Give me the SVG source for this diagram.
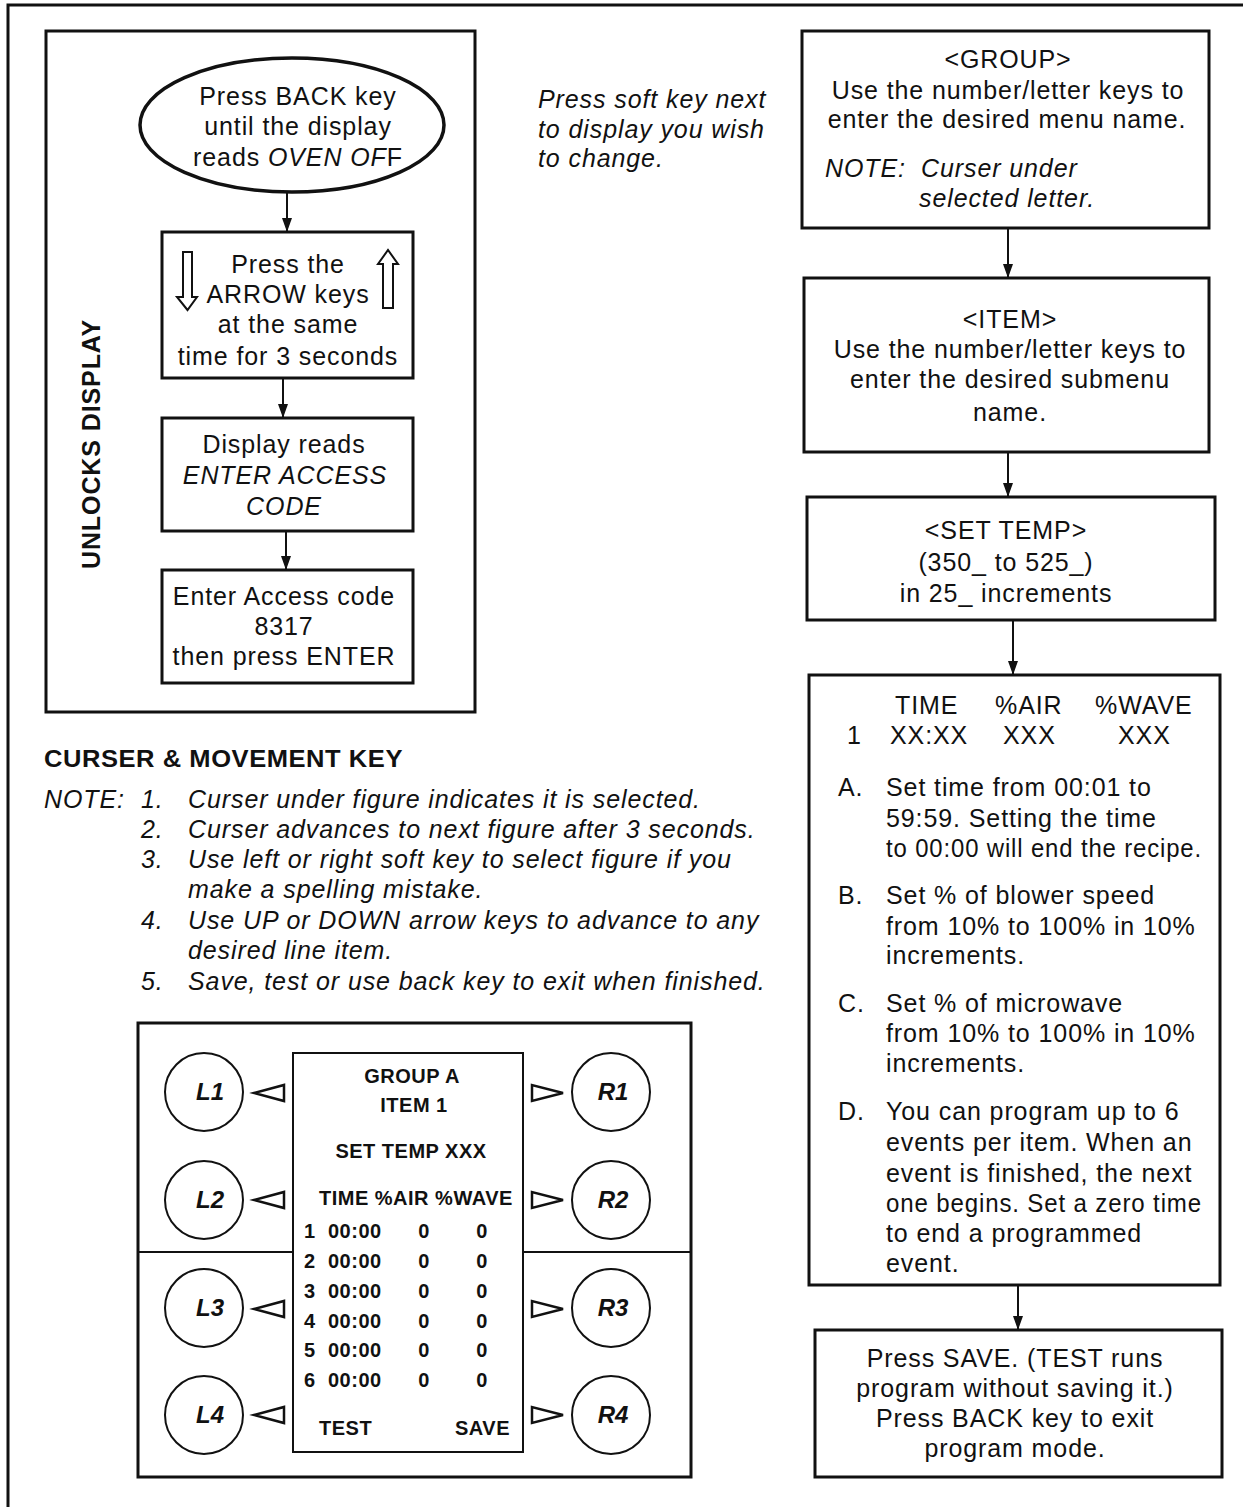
<svg xmlns="http://www.w3.org/2000/svg" width="1243" height="1507" viewBox="0 0 1243 1507">
<style>
  text { font-family: "Liberation Sans", Arial, Helvetica, sans-serif; fill: #111; }
  .t { font-size: 25px; letter-spacing: 0.9px; }
  .c { text-anchor: middle; }
  .i { font-style: italic; }
  .b { font-weight: bold; }
  .box { fill: #fff; stroke: #111; stroke-width: 3; }
  .thin { fill: none; stroke: #111; stroke-width: 2; }
  .conn { stroke: #111; stroke-width: 2; fill: none; }
  .scr { font-size: 20px; font-weight: bold; letter-spacing: 0.5px; }
  .key { font-size: 24px; font-weight: bold; font-style: italic; text-anchor: middle; }
  .tri { fill: #fff; stroke: #111; stroke-width: 2.5; stroke-linejoin: miter; }
</style>
<defs>
  <marker id="ah" viewBox="0 0 10 14" refX="5" refY="14" markerWidth="10" markerHeight="14" markerUnits="userSpaceOnUse" orient="0">
    <path d="M0,0 L10,0 L5,14 Z" fill="#111"/>
  </marker>
</defs>
<rect width="1243" height="1507" fill="#fff"/>

<!-- page border -->
<polyline points="8,1507 8,5 1243,5" fill="none" stroke="#111" stroke-width="3"/>

<!-- left panel -->
<g id="unlock-panel">
  <rect x="46" y="31" width="429" height="681" class="box"/>
  <text class="t c b" transform="translate(100,444) rotate(-90)">UNLOCKS DISPLAY</text>
</g>

<g id="n-back">
  <ellipse cx="292" cy="125" rx="152" ry="67" fill="#fff" stroke="#111" stroke-width="3.5"/>
  <text class="t c" x="298" y="105">Press BACK key</text>
  <text class="t c" x="298" y="135">until the display</text>
  <text class="t c" x="298" y="166">reads <tspan class="i">OVEN OF</tspan>F</text>
</g>

<g id="n-arrows">
  <rect x="162" y="232" width="251" height="146" class="box"/>
  <path d="M183,252 H192 V297 H197 L187.5,310 L177,297 H183 Z" class="thin"/>
  <path d="M383,308 H393 V264 H398 L388,250 L378,264 H383 Z" class="thin"/>
  <text class="t c" x="288" y="273">Press the</text>
  <text class="t c" x="288" y="303">ARROW keys</text>
  <text class="t c" x="288" y="333">at the same</text>
  <text class="t c" x="288" y="365">time for 3 seconds</text>
</g>

<g id="n-display-reads">
  <rect x="162" y="418" width="251" height="113" class="box"/>
  <text class="t c" x="284" y="453">Display reads</text>
  <text class="t c i" x="285" y="484">ENTER ACCESS</text>
  <text class="t c i" x="284" y="515">CODE</text>
</g>

<g id="n-enter-code">
  <rect x="162" y="570" width="251" height="113" class="box"/>
  <text class="t c" x="284" y="605">Enter Access code</text>
  <text class="t c" x="284" y="635">8317</text>
  <text class="t c" x="284" y="665">then press ENTER</text>
</g>

<!-- soft key note -->
<g id="softkey-note">
  <text class="t i" x="538" y="108">Press soft key next</text>
  <text class="t i" x="538" y="138">to display you wish</text>
  <text class="t i" x="538" y="167">to change.</text>
</g>

<!-- right column -->
<g id="n-group">
  <rect x="802" y="31" width="407" height="197" class="box"/>
  <text class="t c" x="1008" y="68">&lt;GROUP&gt;</text>
  <text class="t c" x="1008" y="99">Use the number/letter keys to</text>
  <text class="t c" x="1007" y="128">enter the desired menu name.</text>
  <text class="t i" x="825" y="177">NOTE:</text>
  <text class="t i" x="921" y="177">Curser under</text>
  <text class="t i" x="919" y="207">selected letter.</text>
</g>

<g id="n-item">
  <rect x="804" y="278" width="405" height="174" class="box"/>
  <text class="t c" x="1010" y="328">&lt;ITEM&gt;</text>
  <text class="t c" x="1010" y="358">Use the number/letter keys to</text>
  <text class="t c" x="1010" y="388">enter the desired submenu</text>
  <text class="t c" x="1010" y="421">name.</text>
</g>

<g id="n-settemp">
  <rect x="807" y="497" width="408" height="123" class="box"/>
  <text class="t c" x="1006" y="539">&lt;SET TEMP&gt;</text>
  <text class="t c" x="1006" y="571">(350_ to 525_)</text>
  <text class="t c" x="1006" y="602">in 25_ increments</text>
</g>

<g id="n-events">
  <rect x="809" y="675" width="411" height="610" class="box"/>
  <text class="t" x="895" y="714">TIME</text>
  <text class="t" x="995" y="714">%AIR</text>
  <text class="t" x="1095" y="714">%WAVE</text>
  <text class="t" x="847" y="744">1</text>
  <text class="t" x="890" y="744">XX:XX</text>
  <text class="t" x="1003" y="744">XXX</text>
  <text class="t" x="1118" y="744">XXX</text>

  <text class="t" x="838" y="796">A.</text>
  <text class="t" x="886" y="796">Set time from 00:01 to</text>
  <text class="t" x="886" y="827">59:59. Setting the time</text>
  <text class="t" x="886" y="857" textLength="316" lengthAdjust="spacingAndGlyphs">to 00:00 will end the recipe.</text>

  <text class="t" x="838" y="904">B.</text>
  <text class="t" x="886" y="904">Set % of blower speed</text>
  <text class="t" x="886" y="935">from 10% to 100% in 10%</text>
  <text class="t" x="886" y="964">increments.</text>

  <text class="t" x="838" y="1012">C.</text>
  <text class="t" x="886" y="1012">Set % of microwave</text>
  <text class="t" x="886" y="1042">from 10% to 100% in 10%</text>
  <text class="t" x="886" y="1072">increments.</text>

  <text class="t" x="838" y="1120">D.</text>
  <text class="t" x="886" y="1120">You can program up to 6</text>
  <text class="t" x="886" y="1151">events per item. When an</text>
  <text class="t" x="886" y="1182">event is finished, the next</text>
  <text class="t" x="886" y="1212" textLength="316" lengthAdjust="spacingAndGlyphs">one begins. Set a zero time</text>
  <text class="t" x="886" y="1242">to end a programmed</text>
  <text class="t" x="886" y="1272">event.</text>
</g>

<g id="n-save">
  <rect x="815" y="1330" width="407" height="147" class="box"/>
  <text class="t c" x="1015" y="1367">Press SAVE. (TEST runs</text>
  <text class="t c" x="1015" y="1397">program without saving it.)</text>
  <text class="t c" x="1015" y="1427">Press BACK key to exit</text>
  <text class="t c" x="1015" y="1457">program mode.</text>
</g>

<!-- curser notes -->
<g id="curser-notes">
  <text class="b" x="44" y="767" font-size="23" letter-spacing="0.5" textLength="359" lengthAdjust="spacingAndGlyphs">CURSER &amp; MOVEMENT KEY</text>
  <text class="t i" x="44" y="808">NOTE:</text>
  <text class="t i" x="141" y="808">1.</text>
  <text class="t i" x="188" y="808">Curser under figure indicates it is selected.</text>
  <text class="t i" x="141" y="838">2.</text>
  <text class="t i" x="188" y="838">Curser advances to next figure after 3 seconds.</text>
  <text class="t i" x="141" y="868">3.</text>
  <text class="t i" x="188" y="868">Use left or right soft key to select figure if you</text>
  <text class="t i" x="188" y="898">make a spelling mistake.</text>
  <text class="t i" x="141" y="929">4.</text>
  <text class="t i" x="188" y="929">Use UP or DOWN arrow keys to advance to any</text>
  <text class="t i" x="188" y="959">desired line item.</text>
  <text class="t i" x="141" y="990">5.</text>
  <text class="t i" x="188" y="990">Save, test or use back key to exit when finished.</text>
</g>

<!-- display panel -->
<g id="display-panel">
  <rect x="138" y="1023" width="553" height="454" class="box"/>
  <line x1="138" y1="1252" x2="293" y2="1252" class="conn"/>
  <line x1="523" y1="1252" x2="691" y2="1252" class="conn"/>
  <rect x="293" y="1053" width="230" height="399" fill="#fff" stroke="#111" stroke-width="2"/>
  <text class="scr c" x="412" y="1083">GROUP A</text>
  <text class="scr c" x="414" y="1112">ITEM 1</text>
  <text class="scr c" x="411" y="1158">SET TEMP XXX</text>
  <text class="scr" x="319" y="1205">TIME %AIR %WAVE</text>
  <g class="scr">
    <text class="scr" x="304" y="1238">1</text><text class="scr" x="328" y="1238">00:00</text><text class="scr c" x="424" y="1238">0</text><text class="scr c" x="482" y="1238">0</text>
    <text class="scr" x="304" y="1268">2</text><text class="scr" x="328" y="1268">00:00</text><text class="scr c" x="424" y="1268">0</text><text class="scr c" x="482" y="1268">0</text>
    <text class="scr" x="304" y="1298">3</text><text class="scr" x="328" y="1298">00:00</text><text class="scr c" x="424" y="1298">0</text><text class="scr c" x="482" y="1298">0</text>
    <text class="scr" x="304" y="1328">4</text><text class="scr" x="328" y="1328">00:00</text><text class="scr c" x="424" y="1328">0</text><text class="scr c" x="482" y="1328">0</text>
    <text class="scr" x="304" y="1357">5</text><text class="scr" x="328" y="1357">00:00</text><text class="scr c" x="424" y="1357">0</text><text class="scr c" x="482" y="1357">0</text>
    <text class="scr" x="304" y="1387">6</text><text class="scr" x="328" y="1387">00:00</text><text class="scr c" x="424" y="1387">0</text><text class="scr c" x="482" y="1387">0</text>
  </g>
  <text class="scr" x="319" y="1435">TEST</text>
  <text class="scr" x="510" y="1435" text-anchor="end">SAVE</text>
</g>

<g id="key-L1"><circle cx="204" cy="1092" r="39" class="thin" fill="#fff"/><text class="key" x="210" y="1100">L1</text><path d="M254,1093 L284,1085 L284,1101 Z" class="tri"/></g>
<g id="key-L2"><circle cx="204" cy="1200" r="39" class="thin" fill="#fff"/><text class="key" x="210" y="1208">L2</text><path d="M254,1200 L284,1192 L284,1208 Z" class="tri"/></g>
<g id="key-L3"><circle cx="204" cy="1308" r="39" class="thin" fill="#fff"/><text class="key" x="210" y="1316">L3</text><path d="M254,1309 L284,1301 L284,1317 Z" class="tri"/></g>
<g id="key-L4"><circle cx="204" cy="1415" r="39" class="thin" fill="#fff"/><text class="key" x="210" y="1423">L4</text><path d="M254,1415 L284,1407 L284,1423 Z" class="tri"/></g>
<g id="key-R1"><circle cx="611" cy="1092" r="39" class="thin" fill="#fff"/><text class="key" x="613" y="1100">R1</text><path d="M563,1093 L532,1085 L532,1101 Z" class="tri"/></g>
<g id="key-R2"><circle cx="611" cy="1200" r="39" class="thin" fill="#fff"/><text class="key" x="613" y="1208">R2</text><path d="M563,1200 L532,1192 L532,1208 Z" class="tri"/></g>
<g id="key-R3"><circle cx="611" cy="1308" r="39" class="thin" fill="#fff"/><text class="key" x="613" y="1316">R3</text><path d="M563,1309 L532,1301 L532,1317 Z" class="tri"/></g>
<g id="key-R4"><circle cx="611" cy="1415" r="39" class="thin" fill="#fff"/><text class="key" x="613" y="1423">R4</text><path d="M563,1415 L532,1407 L532,1423 Z" class="tri"/></g>

<!-- connectors -->
<g id="connectors">
  <line x1="287" y1="193" x2="287" y2="232" class="conn" marker-end="url(#ah)"/>
  <line x1="283" y1="378" x2="283" y2="418" class="conn" marker-end="url(#ah)"/>
  <line x1="286" y1="531" x2="286" y2="570" class="conn" marker-end="url(#ah)"/>
  <line x1="1008" y1="228" x2="1008" y2="278" class="conn" marker-end="url(#ah)"/>
  <line x1="1008" y1="452" x2="1008" y2="497" class="conn" marker-end="url(#ah)"/>
  <line x1="1013" y1="620" x2="1013" y2="675" class="conn" marker-end="url(#ah)"/>
  <line x1="1018" y1="1285" x2="1018" y2="1330" class="conn" marker-end="url(#ah)"/>
</g>
</svg>
